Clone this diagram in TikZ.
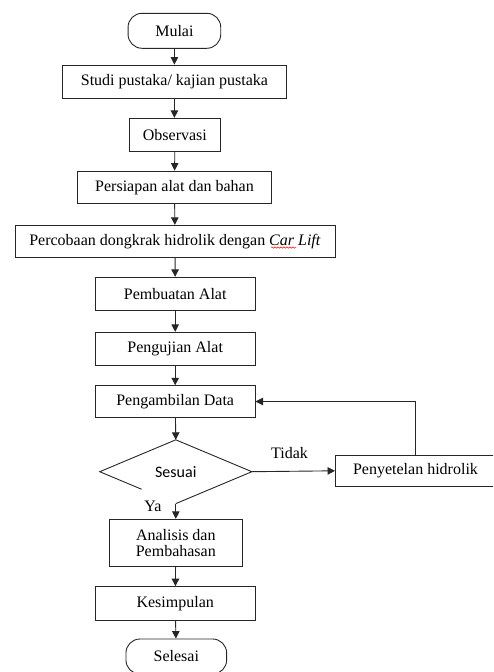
\documentclass[tikz,border=0pt]{standalone}
\usepackage{fontspec}
\setmainfont{Liberation Serif}
\newfontfamily\calib{Carlito}
\usetikzlibrary{arrows.meta,shapes.geometric,calc,decorations.pathmorphing}
\begin{document}
\begin{tikzpicture}[x=1pt,y=-1pt,
  every node/.style={font=\fontsize{16}{18}\selectfont},
  line/.style={line width=0.9pt, draw=black!85},
  box/.style={line, rectangle, inner sep=0pt, align=center},
  term/.style={line, rectangle, rounded corners=14pt, inner sep=0pt},
  arr/.style={line, -{Triangle[length=7.5pt,width=7.5pt]}},
  lbl/.style={inner sep=0pt}]
\useasboundingbox (0,0) rectangle (493,672);
\clip (0,0) rectangle (493,672);
\node[term, minimum width=92.7pt, minimum height=35pt] (mulai) at (174.4,30.8) {Mulai};
\node[box, minimum width=223.3pt, minimum height=33.3pt] (studi) at (174.4,81.7) {Studi pustaka/ kajian pustaka};
\node[box, minimum width=91.7pt, minimum height=33.4pt] (obs) at (174.9,135) {Observasi};
\node[box, minimum width=193.6pt, minimum height=32.7pt] (pers) at (174.5,187.4) {Persiapan alat dan bahan};
\node[box, minimum width=320pt, minimum height=32pt] (perc) at (175,241.3) {Percobaan dongkrak hidrolik dengan \textit{Car Lift}};
\node[box, minimum width=159.7pt, minimum height=33.4pt] (buat) at (175.2,294) {Pembuatan Alat};
\node[box, minimum width=159.7pt, minimum height=33.4pt] (uji) at (175.2,349) {Pengujian Alat};
\node[box, minimum width=159.7pt, minimum height=31.6pt] (data) at (175.2,401.5) {Pengambilan Data};
\node[diamond, inner sep=0pt, minimum width=151.7pt, minimum height=63.4pt] (ses) at (175.8,471.7) {\calib Sesuai};
\draw[line] ($(ses.west)!0.55!(ses.south)$) -- (ses.west) -- (ses.north) -- (ses.east) -- (ses.south);
\node[box, minimum width=133.7pt, minimum height=47.4pt, align=center] (anal) at (175.8,543) {Analisis dan\\[-2pt]Pembahasan};
\node[box, minimum width=159.7pt, minimum height=33.3pt] (kes) at (175.2,603.3) {Kesimpulan};
\node[term, minimum width=100.7pt, minimum height=35pt] (sel) at (176.3,656.5) {Selesai};
\node[box, minimum width=160pt, minimum height=31.7pt] (pen) at (415.5,470.8) {Penyetelan hidrolik};
\node[lbl] (tidak) at (289.5,452.7) {Tidak};
\node[lbl] (ya) at (153,506) {Ya};
\draw[red, line width=0.5pt, decorate, decoration={snake, segment length=3pt, amplitude=0.7pt}] (271,247.5) -- (296,247.5);
\draw[arr] (mulai) -- (studi);
\draw[arr] (studi) -- (studi.south |- obs.north);
\draw[arr] (obs) -- (pers);
\draw[arr] (pers) -- (perc);
\draw[arr] (perc) -- (buat);
\draw[arr] (buat) -- (uji);
\draw[arr] (uji) -- (data);
\draw[arr] (data) -- (ses.north);
\draw[arr] (ses.south) -- (anal);
\draw[arr] (anal) -- (kes);
\draw[arr] (kes) -- (sel);
\draw[arr] (ses.east) -- (pen.west);
\draw[arr] (pen.north) |- (data.east);
\end{tikzpicture}
\end{document}
